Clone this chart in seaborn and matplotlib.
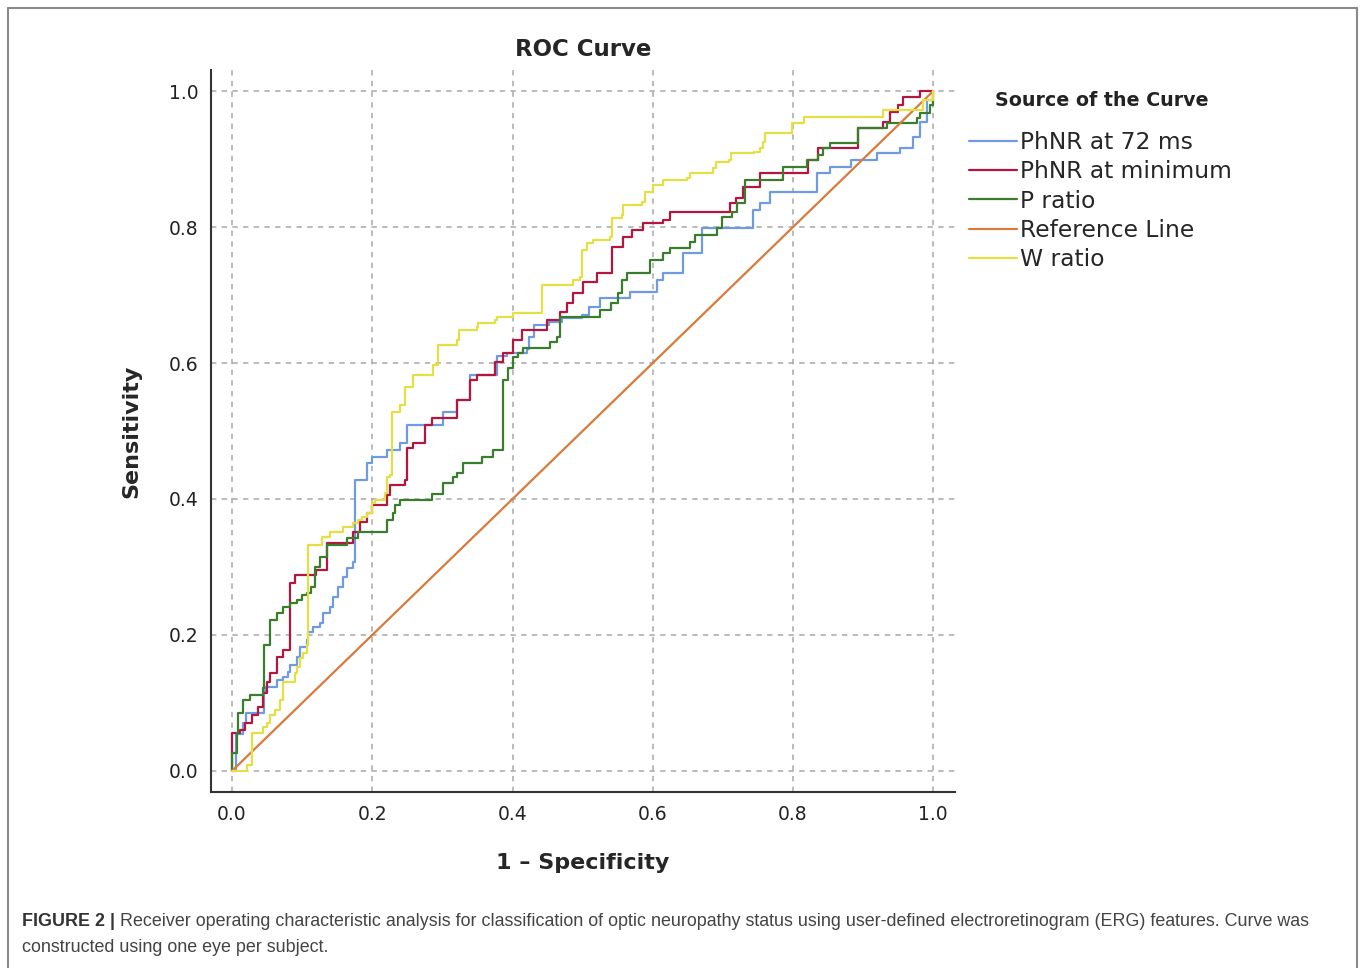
import numpy as np
import pandas as pd
import matplotlib
matplotlib.use("Agg")
import matplotlib.pyplot as plt
from matplotlib.lines import Line2D
import seaborn as sns

# ---------------- data (ROC corner points: fpr, tpr) ----------------
series_names = ["PhNR at 72 ms", "PhNR at minimum", "P ratio", "Reference Line", "W ratio"]

phnr72_fpr = [0, 0.006, 0.016, 0.02, 0.045, 0.047, 0.064, 0.073, 0.08, 0.083, 0.093, 0.097, 0.107,
              0.108, 0.116, 0.126, 0.130, 0.140, 0.144, 0.151, 0.158, 0.164, 0.172, 0.175, 0.193,
              0.2, 0.221, 0.240, 0.250, 0.301, 0.321, 0.339, 0.378, 0.392, 0.420, 0.424, 0.431,
              0.452, 0.471, 0.499, 0.509, 0.525, 0.567, 0.606, 0.615, 0.643, 0.670, 0.670, 0.743,
              0.753, 0.767, 0.834, 0.853, 0.882, 0.920, 0.953, 0.971, 0.981, 0.991, 1.0]
phnr72_tpr = [0, 0.055, 0.07, 0.085, 0.116, 0.124, 0.134, 0.138, 0.146, 0.156, 0.168, 0.182, 0.193,
              0.204, 0.212, 0.218, 0.232, 0.241, 0.256, 0.271, 0.285, 0.298, 0.307, 0.428, 0.453,
              0.462, 0.472, 0.482, 0.509, 0.528, 0.546, 0.582, 0.61, 0.615, 0.620, 0.638, 0.656,
              0.660, 0.666, 0.670, 0.682, 0.695, 0.705, 0.722, 0.732, 0.762, 0.776, 0.798, 0.825,
              0.835, 0.851, 0.879, 0.888, 0.898, 0.909, 0.916, 0.932, 0.954, 0.987, 1.0]

phnrmin_fpr = [0, 0, 0.011, 0.019, 0.029, 0.037, 0.044, 0.05, 0.054, 0.064, 0.073, 0.083, 0.09,
               0.12, 0.136, 0.173, 0.183, 0.193, 0.200, 0.221, 0.225, 0.246, 0.249, 0.258, 0.275,
               0.285, 0.321, 0.339, 0.349, 0.375, 0.386, 0.401, 0.414, 0.449, 0.468, 0.478, 0.486,
               0.501, 0.521, 0.542, 0.558, 0.571, 0.586, 0.615, 0.625, 0.710, 0.718, 0.728, 0.753,
               0.822, 0.835, 0.892, 0.929, 0.939, 0.950, 0.957, 0.981, 1.0]
phnrmin_tpr = [0, 0.056, 0.06, 0.07, 0.082, 0.094, 0.115, 0.131, 0.144, 0.168, 0.178, 0.276, 0.288,
               0.296, 0.335, 0.351, 0.366, 0.379, 0.391, 0.406, 0.42, 0.428, 0.475, 0.482, 0.509,
               0.519, 0.546, 0.575, 0.582, 0.601, 0.615, 0.634, 0.649, 0.663, 0.675, 0.688, 0.703,
               0.719, 0.732, 0.771, 0.785, 0.795, 0.806, 0.81, 0.822, 0.835, 0.843, 0.859, 0.879,
               0.898, 0.916, 0.945, 0.954, 0.969, 0.979, 0.991, 1.0, 1.0]

pratio_fpr = [0, 0, 0.007, 0.009, 0.016, 0.026, 0.044, 0.046, 0.054, 0.054, 0.064, 0.073, 0.083,
              0.093, 0.100, 0.107, 0.112, 0.118, 0.125, 0.136, 0.164, 0.180, 0.221, 0.229, 0.233,
              0.240, 0.285, 0.301, 0.315, 0.321, 0.330, 0.357, 0.372, 0.387, 0.394, 0.401, 0.408,
              0.415, 0.454, 0.464, 0.468, 0.525, 0.54, 0.55, 0.556, 0.563, 0.596, 0.615, 0.625,
              0.653, 0.660, 0.692, 0.699, 0.713, 0.72, 0.732, 0.786, 0.820, 0.835, 0.843, 0.853,
              0.892, 0.934, 0.977, 0.981, 0.996, 1.0]
pratio_tpr = [0, 0.026, 0.056, 0.085, 0.104, 0.112, 0.122, 0.185, 0.188, 0.222, 0.232, 0.241, 0.247,
              0.251, 0.259, 0.262, 0.27, 0.30, 0.315, 0.332, 0.343, 0.352, 0.369, 0.379, 0.391,
              0.399, 0.408, 0.423, 0.432, 0.438, 0.453, 0.462, 0.472, 0.575, 0.593, 0.609, 0.615,
              0.622, 0.631, 0.638, 0.668, 0.678, 0.688, 0.703, 0.722, 0.732, 0.751, 0.762, 0.769,
              0.778, 0.788, 0.798, 0.815, 0.822, 0.835, 0.869, 0.888, 0.898, 0.906, 0.916, 0.923,
              0.945, 0.953, 0.960, 0.968, 0.979, 1.0]

reference_fpr = [0.0, 1.0]
reference_tpr = [0.0, 1.0]

wratio_fpr = [0, 0.021, 0.029, 0.044, 0.05, 0.054, 0.061, 0.068, 0.073, 0.09, 0.093, 0.097, 0.101,
              0.107, 0.108, 0.129, 0.139, 0.158, 0.173, 0.180, 0.186, 0.193, 0.200, 0.204, 0.218,
              0.221, 0.225, 0.228, 0.240, 0.247, 0.258, 0.287, 0.294, 0.321, 0.323, 0.350, 0.351,
              0.375, 0.378, 0.401, 0.442, 0.486, 0.496, 0.499, 0.506, 0.515, 0.539, 0.542, 0.556,
              0.558, 0.585, 0.589, 0.601, 0.615, 0.649, 0.653, 0.686, 0.69, 0.708, 0.711, 0.744,
              0.753, 0.757, 0.76, 0.799, 0.815, 0.929, 0.986, 1.0]
wratio_tpr = [0, 0.009, 0.056, 0.065, 0.071, 0.082, 0.09, 0.104, 0.131, 0.144, 0.153, 0.166, 0.173,
              0.185, 0.332, 0.344, 0.351, 0.359, 0.365, 0.369, 0.374, 0.379, 0.394, 0.399, 0.409,
              0.432, 0.435, 0.528, 0.538, 0.565, 0.582, 0.597, 0.626, 0.634, 0.649, 0.653, 0.659,
              0.663, 0.668, 0.674, 0.715, 0.722, 0.727, 0.766, 0.776, 0.781, 0.785, 0.813, 0.818,
              0.832, 0.837, 0.851, 0.862, 0.869, 0.872, 0.879, 0.887, 0.896, 0.898, 0.909, 0.91,
              0.916, 0.925, 0.938, 0.953, 0.962, 0.972, 0.987, 1.0]

tick_values = [0.0, 0.2, 0.4, 0.6, 0.8, 1.0]
tick_labels = ["0.0", "0.2", "0.4", "0.6", "0.8", "1.0"]

colors = {
    "PhNR at 72 ms": "#6f9be3",
    "PhNR at minimum": "#b3163e",
    "P ratio": "#3a7d2c",
    "Reference Line": "#d97a3c",
    "W ratio": "#e4df45",
}

curves = {
    "PhNR at 72 ms": (phnr72_fpr, phnr72_tpr),
    "PhNR at minimum": (phnrmin_fpr, phnrmin_tpr),
    "P ratio": (pratio_fpr, pratio_tpr),
    "Reference Line": (reference_fpr, reference_tpr),
    "W ratio": (wratio_fpr, wratio_tpr),
}

# ---------------- figure ----------------
sns.set_style("white")
plt.rcParams["font.family"] = ["DejaVu Sans"]

W, H = 1365, 968
fig = plt.figure(figsize=(W / 100, H / 100), dpi=100)
ax = fig.add_axes([211 / W, 1 - 792 / H, (955 - 211) / W, (792 - 70) / H])

LW = 1.6
for name in series_names:
    fx, fy = curves[name]
    df = pd.DataFrame({"fpr": fx, "tpr": fy})
    ds = "default" if name == "Reference Line" else "steps-post"
    sns.lineplot(data=df, x="fpr", y="tpr", ax=ax, estimator=None, sort=False,
                 color=colors[name], linewidth=LW, drawstyle=ds, label=name)

ax.set_xlim(-0.03, 1.031)
ax.set_ylim(-0.031, 1.031)
ax.set_xticks(tick_values)
ax.set_xticklabels(tick_labels)
ax.set_yticks(tick_values)
ax.set_yticklabels(tick_labels)
ax.tick_params(axis="both", length=0, labelsize=13.5, colors="#222222")
ax.tick_params(axis="x", pad=9)
ax.tick_params(axis="y", pad=9)
ax.grid(True, color="#a8a8a8", linestyle=(0, (3.5, 3.5)), linewidth=1.1)
ax.set_axisbelow(True)
for s in ["top", "right"]:
    ax.spines[s].set_visible(False)
for s in ["left", "bottom"]:
    ax.spines[s].set_color("#333333")
    ax.spines[s].set_linewidth(1.5)

ax.set_title("ROC Curve", fontsize=16.5, fontweight="bold", pad=10)
ax.set_xlabel("1 \u2013 Specificity", fontsize=16, fontweight="bold", labelpad=21)
ax.set_ylabel("Sensitivity", fontsize=16, fontweight="bold", labelpad=20)

ax.get_legend().remove()
handles = [Line2D([0], [0], color=colors[n], linewidth=LW) for n in series_names]
leg = fig.legend(handles, series_names, loc="upper left", bbox_to_anchor=(948 / W, 1 - 110 / H),
                 frameon=False, fontsize=16.8, handlelength=2.05, handletextpad=0.15,
                 labelspacing=0.27)
fig.text(1102 / W, 1 - 101 / H, "Source of the Curve", fontsize=13.7, fontweight="bold",
         ha="center", va="center", color="#222222")

# outer frame
for (x0, y0, x1, y1) in [(8, 8, 1357, 8), (8, 8, 8, 968), (1357, 8, 1357, 968)]:
    fig.add_artist(Line2D([x0 / W, x1 / W], [1 - y0 / H, 1 - y1 / H], color="#8a8a8a",
                          linewidth=1.5, transform=fig.transFigure))

# caption
cap_font = ["Liberation Sans", "DejaVu Sans"]
CFS = 12.9
t1 = fig.text(22 / W, 1 - 922 / H, "FIGURE 2 |", fontsize=CFS, fontweight="bold",
              color="#333333", family=cap_font, va="center", ha="left")
ax.annotate(" Receiver operating characteristic analysis for classification of optic neuropathy "
            "status using user-defined electroretinogram (ERG) features. Curve was",
            xy=(1, 0.5), xycoords=t1, va="center", ha="left", fontsize=CFS,
            color="#444444", family=cap_font, annotation_clip=False)
fig.text(22 / W, 1 - 947 / H, "constructed using one eye per subject.", fontsize=CFS,
         color="#444444", family=cap_font, va="center", ha="left")

fig.savefig("out.png", dpi=100)
